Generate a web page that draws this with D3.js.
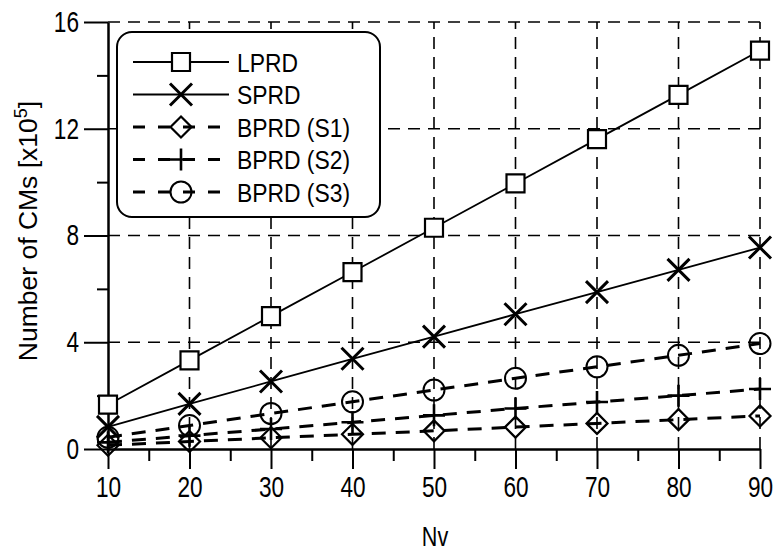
<!DOCTYPE html>
<html lang="en">
<head>
<meta charset="UTF-8">
<title>Number of CMs</title>
<script src="https://cdn.jsdelivr.net/npm/d3@7"></script>
<style>
  body { margin: 0; background: #fff; }
  text { font-family: "Liberation Sans", Arial, sans-serif; fill: #000; }
</style>
</head>
<body>
<div id="box"></div>
<script>
// data (values in x10^5)
const nv = [10, 20, 30, 40, 50, 60, 70, 80, 90];
const lprd = [1.66, 3.32, 4.98, 6.63, 8.29, 9.95, 11.61, 13.27, 14.93];
const sprd = [0.83, 1.69, 2.53, 3.38, 4.21, 5.05, 5.88, 6.71, 7.55];
const bprdS1 = [0.14, 0.28, 0.42, 0.55, 0.68, 0.82, 0.96, 1.10, 1.24];
const bprdS2 = [0.25, 0.50, 0.75, 1.00, 1.26, 1.52, 1.76, 2.00, 2.25];
const bprdS3 = [0.44, 0.88, 1.33, 1.77, 2.21, 2.65, 3.08, 3.51, 3.95];
const xTicks = [10, 20, 30, 40, 50, 60, 70, 80, 90];
const xMinor = [15, 25, 35, 45, 55, 65, 75, 85];
const yTicks = [0, 4, 8, 12, 16];
const yMinor = [2, 6, 10, 14];

const series = [
  {name: "BPRD (S1)", values: bprdS1, dashed: true, marker: "diamond"},
  {name: "BPRD (S2)", values: bprdS2, dashed: true, marker: "plus"},
  {name: "BPRD (S3)", values: bprdS3, dashed: true, marker: "circle"},
  {name: "SPRD", values: sprd, dashed: false, marker: "x"},
  {name: "LPRD", values: lprd, dashed: false, marker: "square"}
];
const legendOrder = ["LPRD", "SPRD", "BPRD (S1)", "BPRD (S2)", "BPRD (S3)"];

const svg = d3.select("#box").append("svg").attr("width", 774).attr("height", 551);

const x = d3.scaleLinear().domain([10, 90]).range([108, 760]);
const y = d3.scaleLinear().domain([0, 16]).range([449, 22]);

// condensed-looking text: normal font squeezed sideways
function label(parent, tx, ty, str, size, k) {
  return parent.append("text")
    .attr("transform", `translate(${tx},${ty}) scale(${k},1)`)
    .attr("font-size", size).text(str);
}

// grid
const grid = svg.append("g").attr("stroke", "#000").attr("stroke-width", 1.6).attr("stroke-dasharray", "12,8");
xTicks.slice(1).forEach(t => {
  grid.append("line").attr("x1", x(t)).attr("x2", x(t)).attr("y1", y(0)).attr("y2", y(16));
});
yTicks.slice(1).forEach(t => {
  grid.append("line").attr("x1", x(10)).attr("x2", x(90)).attr("y1", y(t)).attr("y2", y(t));
});

// axes
const tickK = 0.78;
svg.append("g").attr("transform", `translate(0,${y(0)})`)
  .call(d3.axisBottom(x).tickValues(xTicks).tickSize(20).tickPadding(7).tickSizeOuter(0));
svg.append("g").attr("transform", `translate(0,${y(0)})`)
  .call(d3.axisBottom(x).tickValues(xMinor).tickSize(12).tickFormat("").tickSizeOuter(0))
  .select(".domain").remove();
svg.append("g").attr("transform", `translate(${x(10)},0)`)
  .call(d3.axisLeft(y).tickValues(yTicks).tickSize(24).tickPadding(5).tickSizeOuter(0));
svg.append("g").attr("transform", `translate(${x(10)},0)`)
  .call(d3.axisLeft(y).tickValues(yMinor).tickSize(11).tickFormat("").tickSizeOuter(0))
  .select(".domain").remove();
svg.selectAll(".domain").attr("stroke-width", 2.5);
svg.selectAll(".tick line").attr("stroke-width", 2);
svg.selectAll(".tick text").attr("font-size", 29)
  .attr("x", function() { return (+d3.select(this).attr("x") || 0) / tickK; })
  .attr("transform", `scale(${tickK},1)`);

// axis titles
label(svg, 435, 546, "Nv", 27, 0.8).attr("text-anchor", "middle");
const yt = svg.append("text").attr("transform", "translate(37,231) rotate(-90)")
  .attr("text-anchor", "middle").attr("font-size", 26.5);
yt.append("tspan").text("Number of CMs [x10");
yt.append("tspan").attr("font-size", 18).attr("dy", -10).text("5");
yt.append("tspan").attr("dy", 10).text("]");

// markers
function drawMarker(g, type) {
  if (type === "circle") {
    return g.append("circle").attr("r", 10.5).attr("fill", "none").attr("stroke", "#000").attr("stroke-width", 2);
  }
  const shapes = {
    square: "M-9,-9H9V9H-9Z",
    x: "M-11,-11L11,11M-11,11L11,-11",
    plus: "M-11,0H11M0,-11V11",
    diamond: "M0,-10.5L10.5,0L0,10.5L-10.5,0Z"
  };
  return g.append("path").attr("d", shapes[type])
    .attr("fill", type === "square" ? "#fff" : "none")
    .attr("stroke", "#000")
    .attr("stroke-width", type === "x" ? 3 : type === "plus" ? 2.6 : 2.2);
}

const line = d3.line().x((d, i) => x(nv[i])).y(d => y(d));
series.forEach(s => {
  svg.append("path").datum(s.values).attr("d", line).attr("fill", "none").attr("stroke", "#000")
    .attr("stroke-width", s.dashed ? 3 : 1.8)
    .attr("stroke-dasharray", s.dashed ? "14,10" : null);
});
series.forEach(s => {
  s.values.forEach((v, i) => {
    const g = svg.append("g").attr("transform", `translate(${x(nv[i])},${y(v)})`);
    drawMarker(g, s.marker);
  });
});

// legend
const lg = svg.append("g");
lg.append("rect").attr("x", 117).attr("y", 32).attr("width", 263).attr("height", 185)
  .attr("rx", 15).attr("fill", "#fff").attr("stroke", "#000").attr("stroke-width", 2);
legendOrder.forEach((name, i) => {
  const s = series.find(d => d.name === name);
  const ly = 62 + i * 32.5;
  lg.append("line").attr("x1", 133).attr("x2", 229).attr("y1", ly).attr("y2", ly)
    .attr("stroke", "#000").attr("stroke-width", s.dashed ? 3 : 1.8)
    .attr("stroke-dasharray", s.dashed ? "12,13" : null);
  const g = lg.append("g").attr("transform", `translate(181,${ly})`);
  drawMarker(g, s.marker);
  label(lg, 237, ly + 9.5, name, 26, 0.88);
});
</script>
</body>
</html>
